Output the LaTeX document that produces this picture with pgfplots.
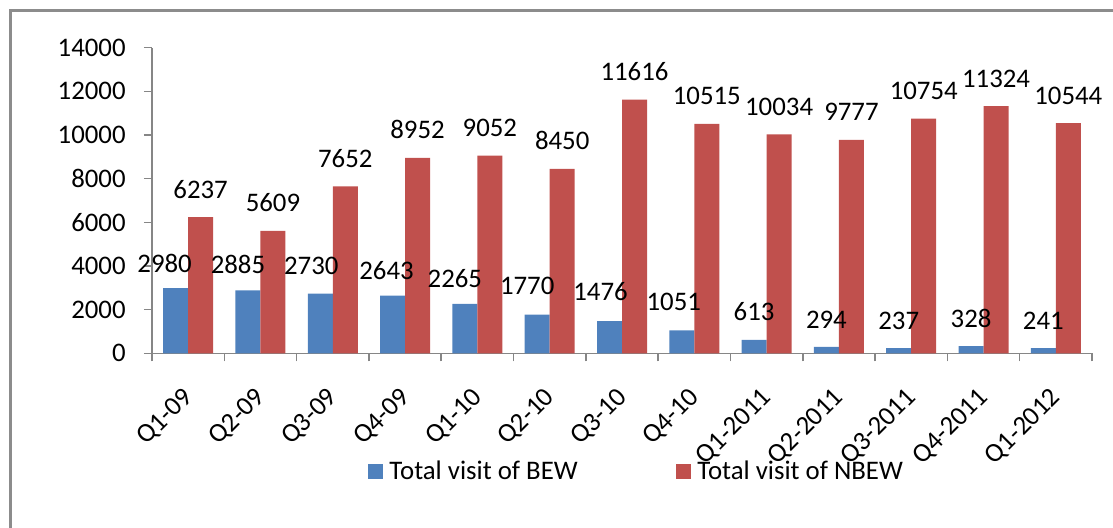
\documentclass[border=0pt]{standalone}
\usepackage{pgfplots}
\usepackage{pgfplotstable}
\pgfplotsset{compat=1.18}
\usepackage{fontspec}
\setmainfont{Carlito}
\definecolor{bewblue}{HTML}{4F81BD}
\definecolor{nbewred}{HTML}{C0504D}
\definecolor{axisgray}{HTML}{868686}
\definecolor{framegray}{HTML}{8C8C8C}
\newcommand{\chartfont}{\fontsize{13.4}{16}\selectfont}

\pgfplotstableread{
x y dx dy
0 2980 -5.5 7.85
1 2885 -5.0 8.35
2 2730 -4.5 9.5
3 2643 -3.0 8.0
4 2265 -5.0 8.0
5 1770 -5.0 10.0
6 1476 -4.5 10.35
7 1051 -4.0 10.15
8 613 0 9.5
9 294 0 9.35
10 237 0 9.5
11 328 0 9.5
12 241 0 9.35
}\bewdata

\pgfplotstableread{
x y
0 6237
1 5609
2 7652
3 8952
4 9052
5 8450
6 11616
7 10515
8 10034
9 9777
10 10754
11 11324
12 10544
}\nbewdata

\begin{document}
\begin{tikzpicture}
\useasboundingbox (-76pt,-87.35pt) rectangle (480.5pt,176.65pt);
\draw[framegray, line width=1.6pt] (-70.65pt,-95pt) -- (-70.65pt,171.3pt) -- (490pt,171.3pt);
\begin{axis}[
  at={(0pt,0pt)}, anchor=south west,
  scale only axis, width=470pt, height=152.8pt,
  ybar=0pt, bar width=12.5pt,
  xmin=-0.5, xmax=12.5, ymin=0, ymax=14000,
  axis x line*=bottom, axis y line*=left,
  axis line style={-, draw=axisgray, line width=0.75pt},
  tick align=outside,
  xtick={0,...,12},
  xticklabels={Q1-09,Q2-09,Q3-09,Q4-09,Q1-10,Q2-10,Q3-10,Q4-10,Q1-2011,Q2-2011,Q3-2011,Q4-2011,Q1-2012},
  minor xtick={-0.5,0.5,1.5,2.5,3.5,4.5,5.5,6.5,7.5,8.5,9.5,10.5,11.5,12.5},
  major x tick style={draw=none},
  minor x tick style={draw=axisgray, line width=0.75pt},
  minor tick length=4pt,
  ytick={0,2000,...,14000},
  major y tick style={draw=axisgray, line width=0.75pt},
  major tick length=4pt,
  scaled y ticks=false,
  /pgf/number format/1000 sep={},
  /pgf/number format/assume math mode=true,
  ticklabel style={font=\chartfont, text=black},
  xticklabel style={inner sep=0pt, anchor=east, yshift=-16pt, xshift=0.5pt, rotate=45},
  yticklabel style={anchor=east, inner sep=0pt, xshift=-9pt},
  legend style={at={(0.5164,-0.3868)}, anchor=center, draw=none, fill=none,
    legend columns=2, font=\chartfont,
    /tikz/every even column/.append style={column sep=47pt}},
  legend cell align=left,
  clip=false,
]
\addplot[fill=bewblue, draw=none,
  legend image code/.code={\fill[bewblue] (0pt,-3.75pt) rectangle (7.5pt,3.75pt); \path (8.8pt,0pt);},
  visualization depends on={\thisrow{dx}\as\dx},
  visualization depends on={\thisrow{dy}\as\dy},
  nodes near coords,
  nodes near coords style={font=\chartfont, text=black, anchor=base, inner sep=0pt, xshift=\dx pt, yshift=\dy pt},
] table[x=x,y=y] {\bewdata};
\addlegendentry{Total visit of BEW}
\addplot[fill=nbewred, draw=none,
  legend image code/.code={\fill[nbewred] (0pt,-3.75pt) rectangle (7.5pt,3.75pt); \path (8.8pt,0pt);},
  nodes near coords,
  nodes near coords style={font=\chartfont, text=black, anchor=base, inner sep=0pt, yshift=9.5pt},
] table[x=x,y=y] {\nbewdata};
\addlegendentry{Total visit of NBEW}
\end{axis}
\end{tikzpicture}
\end{document}
